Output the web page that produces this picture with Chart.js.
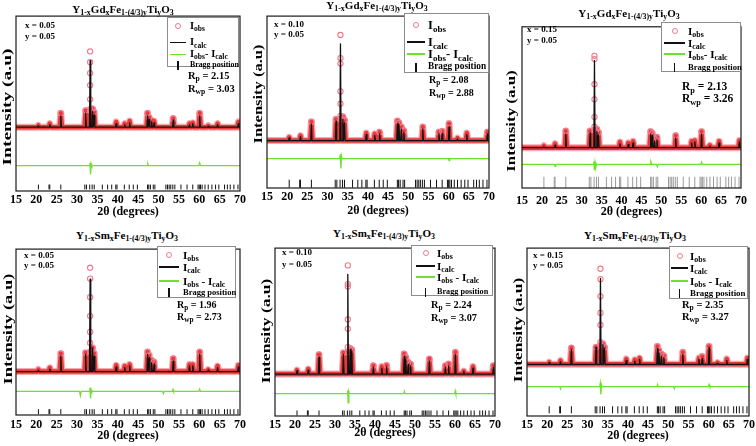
<!DOCTYPE html>
<html><head><meta charset="utf-8">
<script src="https://cdn.jsdelivr.net/npm/chart.js@4.4.1/dist/chart.umd.min.js"></script>
<style>
html,body{margin:0;padding:0}
body{width:756px;height:446px;background:#fff;position:relative;overflow:hidden;font-family:"Liberation Serif","Times New Roman",serif;font-weight:bold;color:#000}
.abs{position:absolute;white-space:nowrap;line-height:1}
canvas{position:absolute}
sub{font-size:0.72em;vertical-align:baseline;position:relative;top:0.32em;line-height:0}
.leg{position:absolute;border:1px solid #8c8c8c;background:#fff;box-sizing:border-box}
</style></head><body>
<script>
// ---------- data ----------
const twoThetaRange = [15, 70];
const xTickLabels = [15, 20, 25, 30, 35, 40, 45, 50, 55, 60, 65, 70];
const peakPos = [20.5, 23.3, 26.0, 32.1, 33.2, 33.8, 34.2, 39.6, 41.7, 42.9, 47.3, 47.7, 48.3, 48.9, 53.6, 57.6, 58.4, 60.1, 62.2, 64.5, 69.6];
const braggPos = [20.5, 23.1, 23.3, 26.0, 31.9, 32.3, 33.1, 33.7, 34.2, 36.2, 37.5, 38.5, 39.5, 39.8, 41.6, 42.8, 43.8, 44.8, 47.3, 47.6, 48.0, 48.7, 49.1, 51.8, 52.2, 52.6, 53.0, 53.5, 54.0, 55.5, 57.0, 58.4, 59.7, 60.0, 60.3, 60.7, 61.4, 62.2, 63.1, 64.0, 64.8, 66.2, 66.9, 67.6, 68.5, 69.5];
const mainPeak = 33.2;

// panel A: Gd x=0.05
const baseA = 36.5;
const calcA = [37.3, 38, 43, 44.5, 74.5, 45.5, 43.5, 38.5, 38, 39, 43, 41, 39.5, 39, 40.5, 38, 38.5, 43, 37, 38, 38.5];
const obsA  = [37.5, 38.5, 44.5, 46, 46, 47, 45, 39.5, 38.5, 40, 44.5, 42, 40.5, 40, 41.5, 38.5, 39, 44.5, 37.3, 38.5, 39.5];
const stackA = [79.8, 73.6, 67.4, 60.5, 52.4, 46.8];
const diffA = [[15,14.5],[33.0,14.5],[33.15,16.2],[33.3,9.4],[33.45,15.6],[33.6,14.5],[47.2,14.5],[47.35,15.6],[47.5,14.5],[59.9,14.5],[60.1,16],[60.3,14.5],[70,14.5]];

// panel B: Gd x=0.10
const baseB = 27.6;
const calcB = [29.1, 29.9, 37.1, 38.7, 83.8, 40, 38, 31, 30.5, 31.4, 37.5, 36.8, 34.3, 32.4, 34.3, 31.4, 31.8, 35.6, 28.5, 31, 31.4];
const obsB  = [29.5, 30.5, 38.5, 40, 40, 41.5, 39.5, 32, 31.5, 32.5, 39, 38, 35.5, 33.5, 35.5, 32.5, 33, 37.5, 29, 32, 32.5];
const stackB = [89.0, 75.6, 72.4, 56.2, 49.0, 42];
const diffB = [[15,17.1],[33.0,17.1],[33.15,19.6],[33.3,11.4],[33.45,18.6],[33.6,17.1],[60.0,17.1],[60.1,16],[60.25,17.1],[70,17.1]];

// panel C: Gd x=0.15
const baseC = 25;
const calcC = [25.8, 26.6, 33.4, 34, 79, 35, 33, 27.4, 27, 28, 33.4, 32.6, 29, 30, 31, 28, 28.6, 33.4, 26, 28, 28.6];
const obsC  = [26.2, 27.5, 35.4, 35.4, 36, 36.5, 34.5, 28.5, 28, 29, 35, 34, 30.5, 31.5, 32.5, 29, 29.5, 35, 26.5, 29, 29.5];
const stackC = [82, 80, 64.4, 55, 44, 38];
const diffC = [[15,14.6],[23.1,14.6],[23.3,13.4],[23.5,14.6],[32.9,14.6],[33.05,16.6],[33.2,11],[33.35,16],[33.55,13],[33.7,14.6],[47.2,14.6],[47.35,16.4],[47.6,14.6],[48.8,14.6],[49.0,13.2],[49.2,14.6],[59.9,14.6],[60.1,16],[60.3,14.6],[70,14.6]];

// panel D: Sm x=0.05
const baseD = 26.2;
const calcD = [27, 27.6, 35.5, 36.5, 81.9, 40.4, 35.5, 29, 28.6, 29.6, 36.5, 34.5, 31.6, 30.6, 32.5, 29.6, 29.6, 36.5, 27, 28.6, 29];
const obsD  = [27.4, 28.5, 37, 37.5, 38, 40.5, 37, 30, 29.5, 30.5, 38, 36, 33, 32, 34, 30.5, 30.5, 38, 27.3, 29.5, 30];
const stackD = [88.8, 82.2, 71, 59.6, 50.1, 43.4];
const diffD = [[15,14.2],[30.6,14.2],[30.8,11.8],[31.0,14.2],[33.0,14.2],[33.15,16.4],[33.3,9.9],[33.45,15.2],[33.6,14.2],[51.0,14.2],[51.2,13],[51.4,14.2],[53.4,14.2],[53.55,15.4],[53.7,14.2],[59.9,14.2],[60.1,15.6],[60.3,14.2],[70,14.2]];

// panel E: Sm x=0.10
const baseE = 25;
const calcE = [27, 27.3, 35.1, 36.6, 84.4, 39.6, 38.6, 28.9, 28.5, 29.2, 35.7, 33.7, 30.8, 29.8, 32.7, 28.9, 29.8, 36.6, 26.5, 28.5, 28.9];
const obsE  = [27.3, 28, 36.6, 37.6, 38, 40.2, 39.5, 30, 29.5, 30.2, 37, 35, 32, 31, 34, 30, 31, 38, 26.8, 29.5, 30];
const stackE = [89.7, 78.6, 77.2, 57.5, 51.9, 41];
const diffE = [[15,13.3],[33.0,13.3],[33.15,15.2],[33.3,7.8],[33.45,14.6],[33.6,13.3],[47.2,13.3],[47.35,14.6],[47.5,13.3],[59.9,13.3],[60.05,15],[60.2,13.3],[70,13.3]];

// panel F: Sm x=0.15
const baseF = 30.8;
const calcF = [31.8, 32.4, 39.6, 40.9, 81.9, 42.5, 40.2, 33.1, 32.7, 33.7, 40.2, 37.6, 35.7, 34.7, 36.6, 33.7, 34.3, 40.5, 31.5, 33.1, 33.7];
const obsF  = [32, 33, 40.5, 41, 42, 43, 41, 34, 33.5, 34.5, 41.5, 39, 37, 36, 38, 34.5, 35.5, 41.5, 31.8, 34, 34.5];
const stackF = [87.7, 81.5, 71.3, 61.4, 54.2, 44];
const diffF = [[15,17.5],[23.1,17.5],[23.3,16.2],[23.5,17.5],[33.0,17.5],[33.15,19.5],[33.3,12.9],[33.45,18.6],[33.6,17.5],[47.2,17.5],[47.35,18.7],[47.5,17.5],[51.3,17.5],[51.5,16.3],[51.7,17.5],[59.9,17.5],[60.1,18.8],[60.3,17.5],[70,17.5]];

const compX = ['0.05','0.10','0.15','0.05','0.10','0.15'];
const compY = ['0.05','0.05','0.05','0.05','0.05','0.05'];
const rpVals = ['2.15','2.08','2.13','1.96','2.24','2.35'];
const rwpVals = ['3.03','2.88','3.26','2.73','3.07','3.27'];
const dopant = ['Gd','Gd','Gd','Sm','Sm','Sm'];

// ---------- layout ----------
const panels = [
 {base:baseA, calc:calcA, obs:obsA, stack:stackA, diff:diffA,
  plot:[16,13,240,191], tickCy:200, xTitleCy:212, yT:[6,107,1.5], title:[123,9], comp:[25,25,36],
  leg:[167,17,239,67], rows:[8,24.7,36.3,47], sym:[2,18], tx:22, fs:10.5, fb:7.8, rp:[188,76,89], rpFs:10.5,
  bragg:{y:2.3,r:2.4,c:'#111'}, sep:'- '},
 {base:baseB, calc:calcB, obs:obsB, stack:stackB, diff:diffB,
  plot:[267,13,489,188], tickCy:197, xTitleCy:211, yT:[257,94,1.27], title:[377,5], comp:[274,24,34],
  leg:[404,13,489,73], rows:[11,28,40,53], sym:[2,20], tx:23, fs:12.5, fb:9.3, rp:[429,80,93], rpFs:10,
  bragg:{y:2.5,r:4,c:'#111'}, sep:'- '},
 {base:baseC, calc:calcC, obs:obsC, stack:stackC, diff:diffC,
  plot:[520,22,743,188], tickCy:201, xTitleCy:212, yT:[510,121,1.3], title:[629,13], comp:[527,29,40],
  leg:[661,22,741,72], rows:[8,20,31,44], sym:[2,23], tx:26, fs:11, fb:8.6, rp:[682,87,99], rpFs:11.5,
  bragg:{y:3.4,r:5.8,c:'#9a9a9a'}, sep:'- '},
 {base:baseD, calc:calcD, obs:obsD, stack:stackD, diff:diffD,
  plot:[16,246,240,415], tickCy:425, xTitleCy:436, yT:[7,329,1.42], title:[127,235], comp:[24,255,265],
  leg:[157,246,236,298], rows:[8,20,34,45], sym:[1,21], tx:25, fs:11, fb:8.5, rp:[177,305,317], rpFs:10,
  bragg:{y:2,r:2.5,c:'#111'}, sep:' - '},
 {base:baseE, calc:calcE, obs:obsE, stack:stackE, diff:diffE,
  plot:[275,245,495,416], tickCy:425, xTitleCy:433, yT:[265,331,1.34], title:[384,233], comp:[282,252,264],
  leg:[411,245,493,296], rows:[7,20,31,46], sym:[4,23], tx:25, fs:11, fb:8.2, rp:[431,305,318], rpFs:10.3,
  bragg:{y:1.8,r:2.5,c:'#111'}, sep:' - '},
 {base:baseF, calc:calcF, obs:obsF, stack:stackF, diff:diffF,
  plot:[527,245,749,416], tickCy:425, xTitleCy:436, yT:[517,330,1.34], title:[635,235], comp:[533,255,265],
  leg:[669,246,748,299], rows:[9,21,34,46], sym:[1,18], tx:20, fs:11, fb:8.9, rp:[682,305,317], rpFs:10.5,
  bragg:{y:3.7,r:3.5,c:'#111'}, sep:' - '}
];

const FONT = '"Liberation Serif","Times New Roman",serif';

function profile(base, heights, w){
  const pts = [{x:twoThetaRange[0], y:base}];
  peakPos.forEach((p,i)=>{ pts.push({x:p-w,y:base},{x:p,y:heights[i]},{x:p+w,y:base}); });
  pts.push({x:twoThetaRange[1], y:base});
  return pts;
}

function el(cls, html){ const d=document.createElement('div'); d.className=cls; if(html!==undefined) d.innerHTML=html; document.body.appendChild(d); return d; }
function txt(html, left, cy, fs){ const d=el('abs',html); d.style.left=left+'px'; d.style.top=(cy-0.5*fs)+'px'; d.style.fontSize=fs+'px'; return d; }

const frame = {id:'frame', afterDraw(c){ const a=c.chartArea, x=c.ctx; x.save(); x.strokeStyle='#1a1a1a'; x.lineWidth=1.2; x.strokeRect(a.left,a.top,a.right-a.left,a.bottom-a.top); x.restore(); }};

panels.forEach((P, k)=>{
  const [pl,pt,pr,pb] = P.plot;
  const padL=10, padR=10, padT=2;
  const xH = P.xTitleCy + 6 - pb;
  const W = (pr-pl) + padL + padR, H = (pb-pt) + padT + xH;
  const cv = document.createElement('canvas');
  cv.width = W; cv.height = H;
  cv.style.left = (pl-padL)+'px'; cv.style.top = (pt-padT)+'px';
  cv.style.width = W+'px'; cv.style.height = H+'px';
  document.body.appendChild(cv);

  const band = profile(P.base, P.obs, 0.28);
  const circles = P.stack.map(v=>({x:mainPeak,y:v}))
    .concat(peakPos.map((p,i)=>({x:p,y:P.obs[i]})).filter(pt=>pt.y - P.base > 4.5));
  const bragg = braggPos.map(p=>({x:p, y:P.bragg.y}));

  new Chart(cv, {
    type:'scatter',
    data:{datasets:[
      {data:profile(P.base, P.calc, 0.15), showLine:true, borderColor:'#111', borderWidth:1.3, pointRadius:0, borderJoinStyle:'round', order:0},
      {data:circles, pointStyle:'circle', pointRadius:2.6, borderColor:'#f07a8c', borderWidth:1.1, backgroundColor:'rgba(0,0,0,0)', order:1},
      {data:band, showLine:true, borderColor:'#e63a38', borderWidth:4.5, pointRadius:0, borderJoinStyle:'round', borderCapStyle:'round', order:2},
      {data:band, showLine:true, borderColor:'#f6a9b3', borderWidth:7, pointRadius:0, borderJoinStyle:'round', order:3},
      {data:P.diff.map(d=>({x:d[0],y:d[1]})), showLine:true, borderColor:'#6ee030', borderWidth:1.3, pointRadius:0, order:4},
      {data:bragg, pointStyle:'line', rotation:90, pointRadius:P.bragg.r, borderColor:P.bragg.c, borderWidth:1, order:5}
    ]},
    options:{
      responsive:false, animation:false, events:[],
      layout:{padding:{left:padL, right:padR, top:padT, bottom:0}},
      plugins:{legend:{display:false}, tooltip:{enabled:false}},
      scales:{
        x:{type:'linear', min:twoThetaRange[0], max:twoThetaRange[1],
           afterBuildTicks:s=>{ s.ticks = xTickLabels.map(v=>({value:v})); },
           grid:{display:false, drawTicks:false}, border:{display:false},
           ticks:{font:{family:FONT, weight:'bold', size:12}, color:'#000', padding:(P.tickCy-pb-7), maxRotation:0, autoSkip:false},
           title:{display:true, text:'2θ (degrees)', font:{family:FONT, weight:'bold', size:12, lineHeight:1}, color:'#000', padding:0},
           afterFit:s=>{ s.height = xH; }},
        y:{display:false, min:0, max:100}
      }
    },
    plugins:[frame]
  });

  // title
  const t = txt('Y<sub>1-x</sub>'+dopant[k]+'<sub>x</sub>Fe<sub>1-(4/3)y</sub>Ti<sub>y</sub>O<sub>3</sub>', P.title[0], P.title[1], 11);
  t.style.transform='translateX(-50%)';
  // y title
  const yt = el('abs','Intensity (a.u)');
  yt.style.fontSize='13px'; yt.style.left=P.yT[0]+'px'; yt.style.top=P.yT[1]+'px';
  yt.style.transform='translate(-50%,-50%) rotate(-90deg) scaleX('+P.yT[2]+')';
  // composition
  txt('x = '+compX[k], P.comp[0], P.comp[1], 9);
  txt('y = '+compY[k], P.comp[0], P.comp[2], 9);
  // R factors
  txt('R<sub>p</sub> = '+rpVals[k], P.rp[0], P.rp[1], P.rpFs);
  txt('R<sub>wp</sub> = '+rwpVals[k], P.rp[0], P.rp[2], P.rpFs);
  // legend
  const [ll,lt,lr,lb] = P.leg;
  const box = el('leg'); box.style.left=ll+'px'; box.style.top=lt+'px'; box.style.width=(lr-ll)+'px'; box.style.height=(lb-lt)+'px';
  const sc = (P.sym[0]+P.sym[1])/2;
  const put = (d, css)=>{ Object.assign(d.style, css); d.style.position='absolute'; box.appendChild(d); };
  put(document.createElement('div'), {left:(sc-3)+'px', top:(P.rows[0]-3)+'px', width:'6px', height:'6px', border:'1.2px solid #f07a8c', borderRadius:'50%', boxSizing:'border-box'});
  put(document.createElement('div'), {left:P.sym[0]+'px', top:(P.rows[1]-0.8)+'px', width:(P.sym[1]-P.sym[0])+'px', height:'1.6px', background:'#111'});
  put(document.createElement('div'), {left:P.sym[0]+'px', top:(P.rows[2]-0.8)+'px', width:(P.sym[1]-P.sym[0])+'px', height:'1.6px', background:'#6ee030'});
  put(document.createElement('div'), {left:(sc-0.6)+'px', top:(P.rows[3]-4.5)+'px', width:'1.3px', height:'9px', background:'#111'});
  const labels = ['I<sub>obs</sub>', 'I<sub>calc</sub>', 'I<sub>obs</sub>'+P.sep+'I<sub>calc</sub>', 'Bragg position'];
  labels.forEach((h,i)=>{
    const fs = i===3 ? P.fb : P.fs;
    const d = document.createElement('div'); d.className='abs'; d.innerHTML=h;
    d.style.fontSize=fs+'px'; d.style.left=P.tx+'px'; d.style.top=(P.rows[i]-0.5*fs)+'px';
    box.appendChild(d);
  });
});
</script>
</body></html>
